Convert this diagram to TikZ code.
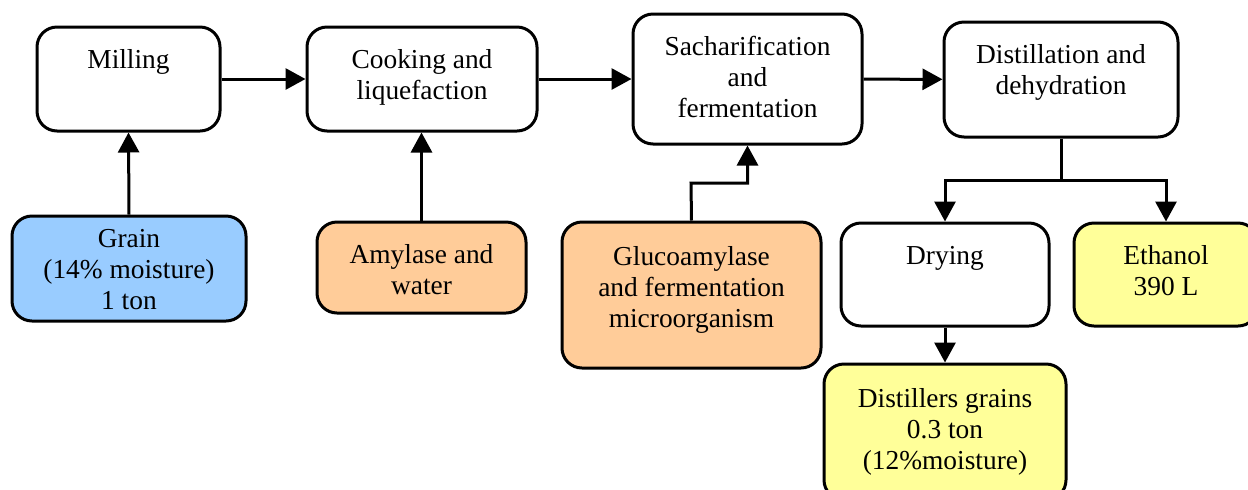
\documentclass[tikz,border=0pt]{standalone}
\usepackage{fontspec}
\setmainfont{Liberation Serif}
\usetikzlibrary{arrows.meta}
\tikzset{
every picture/.style={
line width=1.5pt
}}
\definecolor{feedblue}{RGB}{153,204,255}
\definecolor{enzorange}{RGB}{255,204,153}
\definecolor{prodyellow}{RGB}{255,255,153}

\begin{document}
\begin{tikzpicture}[x=0.5pt, y=-0.5pt,
box/.style = {rectangle, draw=black, rounded corners=10pt, inner sep=0pt},
txt/.style = {anchor=north, align=center, inner sep=0pt, font=\fontsize{13.7}{15.5}\selectfont},
arr/.style = {-{Triangle[length=10pt, width=10.5pt]}}]

\useasboundingbox (0,0) rectangle (1248,489);
\clip (0,0) rectangle (1248,489);

% main process line
\node[box, minimum width=91.5pt, minimum height=52pt] (mill) at (128.5,79) {};
\node[box, minimum width=115pt, minimum height=52pt] (cook) at (422,79) {};
\node[box, minimum width=114.5pt, minimum height=65pt] (sach) at (747.5,79) {};
\node[box, minimum width=117pt, minimum height=57.5pt] (dist) at (1061,79.5) {};

% inputs
\node[box, fill=feedblue, minimum width=117pt, minimum height=52.5pt] (grain) at (129,268.5) {};
\node[box, fill=enzorange, minimum width=104.5pt, minimum height=45.5pt] (amyl) at (421.5,267.5) {};
\node[box, fill=enzorange, minimum width=129.5pt, minimum height=73pt] (gluco) at (691.5,295) {};

% outputs
\node[box, minimum width=104pt, minimum height=51.5pt] (dry) at (945,274.5) {};
\node[box, fill=prodyellow, minimum width=92pt, minimum height=51.5pt] (eth) at (1166,274.5) {};
\node[box, fill=prodyellow, minimum width=121pt, minimum height=68pt] (dgrain) at (945,432) {};

% texts
\node[txt] (millT) at ([yshift=-9.9pt]mill.north) {\strut Milling};
\node[txt] (cookT) at ([yshift=-9.9pt]cook.north) {\strut Cooking and\\liquefaction};
\node[txt] (sachT) at ([yshift=-9.9pt]sach.north) {\strut Sacharification\\and\\fermentation};
\node[txt] (distT) at ([yshift=-9.9pt]dist.north) {\strut Distillation and\\dehydration};
\node[txt] (grainT) at ([yshift=-4.9pt]grain.north) {\strut Grain\\(14\% moisture)\\1 ton};
\node[txt] (amylT) at ([yshift=-9.9pt]amyl.north) {\strut Amylase and\\water};
\node[txt] (glucoT) at ([yshift=-10.9pt]gluco.north) {\strut Glucoamylase\\and fermentation\\microorganism};
\node[txt] (dryT) at ([yshift=-9.9pt]dry.north) {\strut Drying};
\node[txt] (ethT) at ([yshift=-9.9pt]eth.north) {\strut Ethanol\\390 L};
\node[txt] (dgrainT) at ([yshift=-10.9pt]dgrain.north) {\strut Distillers grains\\0.3 ton\\(12\%moisture)};

% connectors
\draw[arr] (mill) -- (cook);
\draw[arr] (cook) -- (sach);
\draw[arr] (sach) -- (dist);
\draw[arr] (grain.north) -- (mill.south);
\draw[arr] (amyl.north) -- (amyl.north |- cook.south);
\coordinate (gbend) at (691,183);
\draw[arr] (gluco.north) -- (gbend) -| (sach.south);
\coordinate (split) at (1061,180);
\draw (dist.south) -- (split);
\draw[arr] (split) -| (dry.north);
\draw[arr] (split) -| (eth.north);
\draw[arr] (dry.south) -- (dgrain.north);
\end{tikzpicture}
\end{document}
